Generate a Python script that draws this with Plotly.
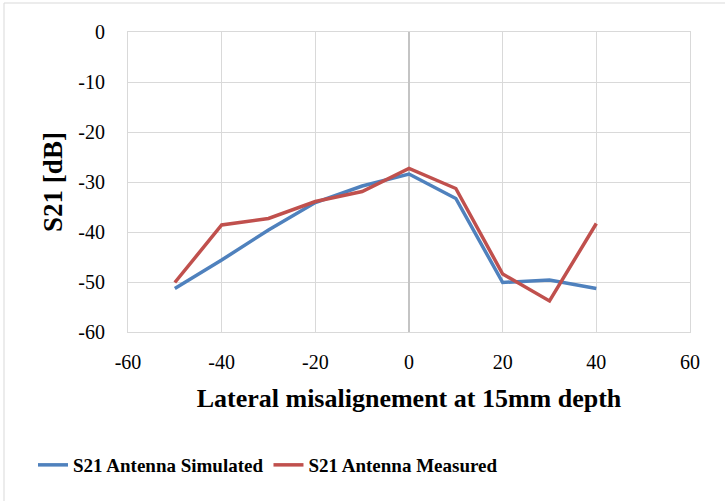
import plotly.graph_objects as go

# Lateral offset (mm) and S21 transmission (dB)
offset_mm = [-50, -40, -30, -20, -10, 0, 10, 20, 30, 40]
s21_simulated = [-51.3, -45.6, -39.6, -34.1, -30.8, -28.4, -33.3, -50.1, -49.6, -51.3]
s21_measured = [-50.1, -38.6, -37.3, -33.9, -31.9, -27.3, -31.3, -48.4, -53.8, -38.3]

series_names = ["S21 Antenna Simulated", "S21 Antenna Measured"]
x_ticks = [-60, -40, -20, 0, 20, 40, 60]
y_ticks = [0, -10, -20, -30, -40, -50, -60]

serif = "Liberation Serif"


def hyphen_labels(values):
    return [str(v) for v in values]


fig = go.Figure()
fig.add_trace(go.Scatter(x=offset_mm, y=s21_simulated, mode="lines", name=series_names[0],
                         line=dict(color="#4f81bd", width=3.5)))
fig.add_trace(go.Scatter(x=offset_mm, y=s21_measured, mode="lines", name=series_names[1],
                         line=dict(color="#c0504d", width=3.5)))

fig.update_layout(
    width=725, height=501,
    margin=dict(l=128, r=35, t=32, b=169),
    paper_bgcolor="white", plot_bgcolor="white",
    font=dict(family=serif, color="black", size=20),
    showlegend=True,
    legend=dict(orientation="h", x=(33 - 128) / 562, xanchor="left",
                y=(332 - 465) / 300, yanchor="middle",
                font=dict(family=serif, size=19, color="black", weight="bold"),
                itemwidth=30, tracegroupgap=0, bgcolor="rgba(0,0,0,0)"),
    xaxis=dict(range=[-60, 60], tickvals=x_ticks, ticktext=hyphen_labels(x_ticks),
               ticklabelstandoff=12,
               showgrid=True, gridcolor="#d9d9d9", gridwidth=1,
               zeroline=True, zerolinecolor="#c4c4c4", zerolinewidth=2,
               showline=True, linecolor="#d9d9d9", linewidth=1, mirror=True,
               title=dict(text="<b>Lateral misalignement at 15mm depth</b>",
                          font=dict(size=26), standoff=16)),
    yaxis=dict(range=[-60, 0], tickvals=y_ticks, ticktext=hyphen_labels(y_ticks),
               ticklabelstandoff=18,
               showgrid=True, gridcolor="#d9d9d9", gridwidth=1, zeroline=False,
               showline=True, linecolor="#d9d9d9", linewidth=1, mirror=True,
               title=dict(text="<b>S21 [dB]</b>", font=dict(size=27), standoff=7)),
    shapes=[dict(type="rect", xref="paper", yref="paper",
                 x0=(4 - 128) / 562, x1=(760 - 128) / 562,
                 y0=(332 - 540) / 300, y1=(332 - 3) / 300,
                 line=dict(color="#d9d9d9", width=1), layer="below")],
)

fig.write_html("out.html")
